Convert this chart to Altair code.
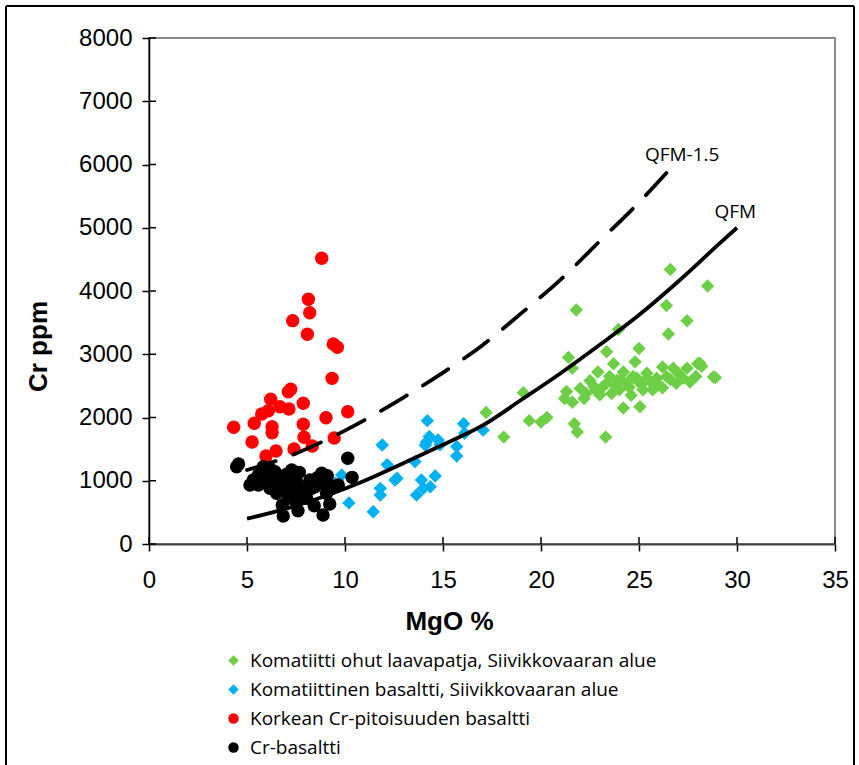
import altair as alt
import pandas as pd

# ---------------- data ----------------
green_mgo = [17.2, 18.1, 19.1, 19.4, 20.0, 20.3, 21.4, 21.6, 21.8, 21.7, 21.85, 21.3, 21.6, 22.0, 22.3,
             22.7, 22.9, 23.0, 23.35, 23.35, 23.3, 23.5, 23.7, 23.9, 23.95, 24.0, 24.2, 24.2, 24.4, 24.7,
             24.8, 25.0, 25.05, 25.05, 25.2, 25.4, 25.7, 25.9, 26.2, 26.4, 26.4, 26.5, 26.6, 26.75, 26.9,
             27.25, 27.45, 27.45, 27.9, 28.0, 28.1, 28.2, 28.5, 28.8, 28.9,
             22.2, 22.5, 23.1, 23.6, 24.1, 24.5, 24.6, 25.3, 25.6, 26.0, 26.6, 27.0, 27.6, 22.8, 23.8,
             24.9, 26.2, 21.2]
green_cr = [2080, 1690, 2390, 1950, 1930, 2000, 2950, 2780, 3700, 1900, 1770, 2410, 2240, 2460, 2380,
            2490, 2720, 2360, 3040, 2540, 1690, 2650, 2850, 2590, 3390, 2440, 2720, 2150, 2540, 2650,
            2880, 3090, 2540, 2170, 2440, 2700, 2440, 2620, 2800, 2650, 3770, 3320, 4340, 2780, 2540,
            2620, 2780, 3530, 2650, 2850, 2860, 2810, 4080, 2640, 2630,
            2300, 2580, 2470, 2380, 2600, 2480, 2350, 2580, 2560, 2520, 2600, 2700, 2560, 2430, 2500,
            2620, 2470, 2300]

blue_mgo = [9.83, 9.5, 10.2, 11.44, 11.8, 11.8, 11.9, 12.15, 12.55, 12.65, 13.57, 13.65, 13.9, 14.0,
            14.2, 14.3, 14.15, 14.1, 14.35, 14.6, 14.75, 14.85, 16.05, 16.1, 15.7, 15.7, 17.05]
blue_cr = [1090, 960, 650, 511, 880, 775, 1565, 1255, 1010, 1040, 1302, 775, 1012, 880,
           1950, 1700, 1610, 1560, 906, 1075, 1645, 1570, 1900, 1750, 1540, 1390, 1800]

red_mgo = [8.81, 8.13, 8.20, 7.33, 8.08, 9.40, 9.61, 9.34, 7.11, 7.23, 6.21, 7.87, 6.68, 7.14, 5.75,
           6.09, 10.14, 9.03, 4.32, 5.37, 6.28, 6.28, 7.87, 5.26, 7.91, 9.45, 8.33, 7.40, 6.48, 5.97]
red_cr = [4517, 3869, 3657, 3531, 3315, 3162, 3110, 2619, 2408, 2446, 2288, 2224, 2171, 2134, 2055,
          2108, 2092, 1997, 1845, 1908, 1855, 1760, 1892, 1613, 1687, 1676, 1549, 1502, 1470, 1391]

black_mgo = [4.47, 4.57, 10.14, 10.36, 9.66, 5.15, 6.85, 7.6, 8.88, 9.22, 8.43, 6.8, 7.11, 7.77, 8.81,
             7.28, 7.67, 5.83, 6.43, 5.58, 5.32, 6.17, 6.68, 8.21, 8.13, 8.72, 9.06, 7.36, 7.79, 7.02,
             6.0, 6.51, 7.53, 8.47, 7.02, 6.51, 8.04, 5.58, 5.9, 6.2, 7.2, 8.6, 9.3, 9.1, 6.9, 7.4,
             7.0, 8.3]
black_cr = [1222, 1265, 1355, 1054, 933, 933, 443, 527, 458, 632, 606, 617, 748, 748, 1118,
            1170, 1133, 1222, 1143, 1091, 1012, 880, 933, 1012, 854, 960, 801, 801, 906, 1012,
            1012, 1039, 985, 906, 854, 801, 722, 933, 1130, 1180, 1060, 1050, 920, 1080, 960, 700,
            1100, 880]

series_names = ["Komatiitti ohut laavapatja, Siivikkovaaran alue",
                "Komatiittinen basaltti, Siivikkovaaran alue",
                "Korkean Cr-pitoisuuden basaltti",
                "Cr-basaltti"]
series_colors = ["#6dcf46", "#00b0f0", "#ff0000", "#000000"]
series_shapes = ["diamond", "diamond", "circle", "circle"]

qfm_mgo = [5, 7, 9, 11, 13, 15, 17, 19, 21, 23, 25, 27, 29, 30]
qfm_cr = [400, 560, 760, 1000, 1280, 1570, 1870, 2280, 2700, 3150, 3620, 4150, 4720, 5000]

qfm15_mgo = [5, 7, 9, 11, 13, 15, 17, 19, 21, 23, 25, 26.5]
qfm15_cr = [1170, 1370, 1640, 1960, 2320, 2710, 3140, 3650, 4180, 4790, 5400, 5900]

curve_labels = ["QFM-1.5", "QFM"]
curve_label_x = [25.3, 28.85]
curve_label_y = [6150, 5250]

x_ticks = [0, 5, 10, 15, 20, 25, 30, 35]
y_ticks = [0, 1000, 2000, 3000, 4000, 5000, 6000, 7000, 8000]

# ---------------- tables ----------------
rows = []
for name, xs, ys in zip(series_names, [green_mgo, blue_mgo, red_mgo, black_mgo],
                        [green_cr, blue_cr, red_cr, black_cr]):
    for a, b in zip(xs, ys):
        rows.append({"MgO": a, "Cr": b, "series": name})
pts = pd.DataFrame(rows)

qfm = pd.DataFrame({"MgO": qfm_mgo, "Cr": qfm_cr})
qfm15 = pd.DataFrame({"MgO": qfm15_mgo, "Cr": qfm15_cr})
labels = pd.DataFrame({"MgO": curve_label_x, "Cr": curve_label_y, "t": curve_labels})
xt = pd.DataFrame({"v": x_ticks})
yt = pd.DataFrame({"v": y_ticks})
one = pd.DataFrame({"a": [0]})

W, H = 686, 506
TICKFONT = "Liberation Sans"
TEXTFONT = "Open Sans"

xscale = alt.Scale(domain=[0, 35], nice=False, zero=False)
yscale = alt.Scale(domain=[0, 8000], nice=False, zero=False)

X = alt.X("MgO:Q", scale=xscale,
          axis=alt.Axis(values=x_ticks, format="d", title="MgO %", grid=False, tickSize=7,
                        tickWidth=1.5, tickColor="#000", domainColor="#404040", domainWidth=2,
                        labelFont=TICKFONT, labelFontSize=24, labelColor="#000", labelPadding=17,
                        labelFlush=False,
                        titleFont="Liberation Sans", titleFontSize=26, titleFontWeight="bold",
                        titleColor="#000", titleX=300, titleY=77, titleBaseline="middle",
                        titleAlign="center"))
Y = alt.Y("Cr:Q", scale=yscale,
          axis=alt.Axis(values=y_ticks, format="d", title="Cr ppm", grid=False, tickSize=7,
                        tickWidth=1.5, tickColor="#000", domainColor="#000", domainWidth=1.5,
                        labelFont=TICKFONT, labelFontSize=24, labelColor="#000", labelPadding=10,
                        labelFlush=False,
                        titleFont="Liberation Sans", titleFontSize=26, titleFontWeight="bold",
                        titleColor="#000", titleX=-111, titleY=308, titleAngle=270,
                        titleBaseline="middle", titleAlign="center"))

legend = alt.Legend(orient="none", legendX=75, legendY=613, title=None, symbolSize=110,
                    labelFont=TEXTFONT, labelFontSize=19, labelColor="#000", labelOffset=7,
                    rowPadding=9, padding=0, symbolStrokeWidth=0, labelLimit=700)

points = alt.Chart(pts).mark_point(filled=True, opacity=1, size=180, strokeWidth=0).encode(
    x=X, y=Y,
    color=alt.Color("series:N", scale=alt.Scale(domain=series_names, range=series_colors),
                    legend=legend),
    shape=alt.Shape("series:N", scale=alt.Scale(domain=series_names, range=series_shapes),
                    legend=legend),
    order=alt.Order("idx:Q"),
).transform_window(idx="row_number()")

line_qfm = alt.Chart(qfm).mark_line(color="#000", strokeWidth=3.8, interpolate="monotone").encode(
    x=alt.X("MgO:Q", scale=xscale), y=alt.Y("Cr:Q", scale=yscale))
line_qfm15 = alt.Chart(qfm15).mark_line(color="#000", strokeWidth=3.8, interpolate="monotone",
                                        strokeDash=[30, 19], strokeCap="round").encode(
    x=alt.X("MgO:Q", scale=xscale), y=alt.Y("Cr:Q", scale=yscale))

text = alt.Chart(labels).mark_text(font=TEXTFONT, fontSize=19, align="left",
                                   baseline="middle", color="#000").encode(
    x=alt.X("MgO:Q", scale=xscale), y=alt.Y("Cr:Q", scale=yscale), text="t:N")

inner_y = alt.Chart(yt).mark_rule(color="#000", strokeWidth=1.5).encode(
    y=alt.Y("v:Q", scale=yscale), x=alt.value(0), x2=alt.value(7))
inner_x = alt.Chart(xt).mark_rule(color="#000", strokeWidth=1.5).encode(
    x=alt.X("v:Q", scale=xscale), y=alt.value(H), y2=alt.value(H - 7))

frame_l = alt.Chart(one).mark_rule(color="#000", strokeWidth=2).encode(
    x=alt.value(-143), y=alt.value(-32), y2=alt.value(727))
frame_t = alt.Chart(one).mark_rule(color="#000", strokeWidth=2).encode(
    x=alt.value(-143), x2=alt.value(705), y=alt.value(-32))
frame_r = alt.Chart(one).mark_rule(color="#000", strokeWidth=2).encode(
    x=alt.value(705), y=alt.value(-32), y2=alt.value(727))

chart = alt.layer(
    points, line_qfm, line_qfm15, text, inner_y, inner_x, frame_l, frame_t, frame_r
).properties(
    width=W, height=H,
    padding={"left": 5, "top": 5, "right": 0, "bottom": 0},
    background="#ffffff",
).configure_view(stroke="#8a8a8a", strokeWidth=2)

chart.save("out.html", embed_options={"renderer": "svg", "actions": False})
